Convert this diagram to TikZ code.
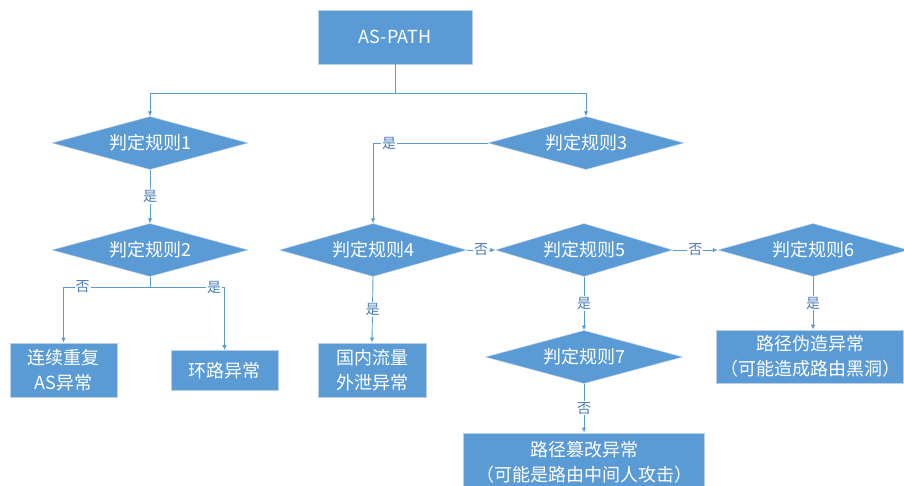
\documentclass[tikz,border=0pt]{standalone}
\usepackage{fontspec}
\setmainfont{Noto Sans CJK SC}
\usetikzlibrary{shapes.geometric,arrows.meta}
\definecolor{fillblue}{HTML}{5B9BD5}
\definecolor{edgeblue}{HTML}{5B9BD5}
\definecolor{labblue}{HTML}{4A7DB5}
\definecolor{rim}{HTML}{BCCFE6}
\tikzset{
  box/.style={rectangle, fill=fillblue, draw=rim, line width=0.8pt, text=white,
    font=\fontsize{18}{25}\selectfont, align=center, inner sep=0pt},
  dia/.style={diamond, fill=fillblue, draw=rim, line width=0.4pt, text=white,
    font=\fontsize{18}{22}\selectfont, inner sep=0pt, aspect=3.7},
  line/.style={draw=edgeblue, line width=0.9pt},
  conn/.style={line, -{Latex[length=5pt,width=4.5pt]}},
  lab/.style={fill=white, text=labblue, font=\fontsize{14}{14}\selectfont, inner sep=1pt}
}
\begin{document}
\begin{tikzpicture}[x=1pt,y=-1pt]
\useasboundingbox (0,0) rectangle (904,486);
\node[box, minimum width=154, minimum height=54] (root) at (395,37) {AS-PATH};
\node[dia, minimum width=196, minimum height=53] (d1) at (150,143) {判定规则1};
\node[dia, minimum width=196, minimum height=53] (d3) at (586,143) {判定规则3};
\node[dia, minimum width=196, minimum height=53] (d2) at (150,250) {判定规则2};
\node[dia, minimum width=187, minimum height=53] (d4) at (373,250) {判定规则4};
\node[dia, minimum width=177, minimum height=53] (d5) at (584,250) {判定规则5};
\node[dia, minimum width=190, minimum height=53] (d6) at (813,250) {判定规则6};
\node[dia, minimum width=197, minimum height=53] (d7) at (584,357) {判定规则7};
\node[box, minimum width=107, minimum height=54] (b1) at (63.5,370) {连续重复\\AS异常};
\node[box, minimum width=107, minimum height=40] (b2) at (224.5,370.5) {环路异常};
\node[box, minimum width=108, minimum height=54] (b3) at (372,370) {国内流量\\外泄异常};
\node[box, minimum width=187, minimum height=53] (b4) at (810,356.5) {路径伪造异常\\（可能造成路由黑洞）};
\node[box, minimum width=241, minimum height=58] (b5) at (584,462) {路径篡改异常\\（可能是路由中间人攻击）};

\coordinate (j0) at (395,93);
\draw[line] (root.south) -- (j0);
\draw[conn] (j0) -| (d1.north);
\draw[conn] (j0) -| (d3.north);
\draw[conn] (d1.south) -- node[lab]{是} (d2.north);
\draw[conn] (d3.west) -| node[lab,pos=0.43]{是} (d4.north);
\coordinate (j2) at (150,287);
\draw[line] (d2.south) -- (j2);
\draw[conn] (j2) -| node[lab,pos=0.39]{否} (b1.north);
\draw[conn] (j2) -| node[lab,pos=0.43]{是} (b2.north);
\draw[conn] (d4.south) -- node[lab]{是} (b3.north);
\draw[conn] (d4.east) -- node[lab]{否} (d5.west);
\draw[conn] (d5.east) -- node[lab]{否} (d6.west);
\draw[conn] (d5.south) -- node[lab]{是} (d7.north);
\draw[conn] (d6.south) -- node[lab]{是} (d6.south |- b4.north);
\draw[conn] (d7.south) -- node[lab]{否} (b5.north);
\end{tikzpicture}
\end{document}
